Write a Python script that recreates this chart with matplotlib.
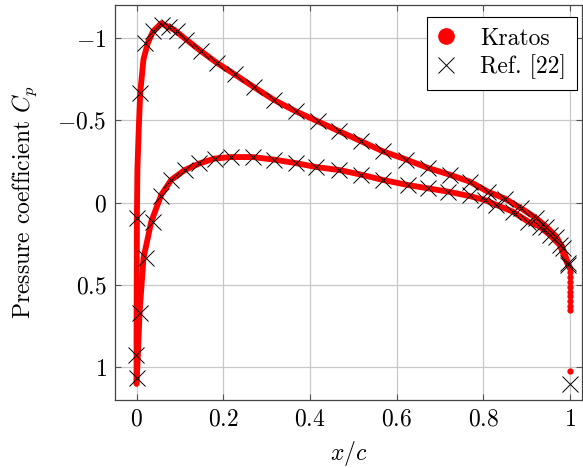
import matplotlib
matplotlib.use('Agg')
import matplotlib.pyplot as plt
from matplotlib.lines import Line2D

plt.rcParams['font.family'] = 'serif'
plt.rcParams['font.serif'] = ['cmr10', 'DejaVu Serif']
plt.rcParams['mathtext.fontset'] = 'cm'
plt.rcParams['axes.formatter.use_mathtext'] = True

# Kratos, upper surface (stagnation -> trailing edge)
kr_up_x = [0.0, 0.0, 0.0005, 0.001, 0.002, 0.005, 0.0085, 0.016, 0.026, 0.038, 0.057,
           0.087, 0.115, 0.149, 0.185, 0.226, 0.272, 0.316, 0.367, 0.418, 0.468,
           0.518, 0.568, 0.622, 0.672, 0.722, 0.768, 0.81, 0.849, 0.887, 0.922,
           0.945, 0.968, 0.983, 0.995, 1.0]
kr_up_cp = [1.1, 0.8, 0.4, 0.05, -0.2, -0.44, -0.666, -0.87, -0.97, -1.04, -1.09,
            -1.05, -0.99, -0.92, -0.85, -0.78, -0.70, -0.626, -0.555, -0.494, -0.433,
            -0.373, -0.312, -0.262, -0.211, -0.17, -0.128, -0.067, -0.025, 0.034, 0.095,
            0.146, 0.206, 0.277, 0.368, 0.40]

# Kratos, lower surface
kr_lo_x = [0.0, 0.003, 0.007, 0.016, 0.034, 0.057, 0.08, 0.111, 0.145, 0.18, 0.218,
           0.268, 0.318, 0.368, 0.415, 0.468, 0.518, 0.568, 0.626, 0.672, 0.718,
           0.768, 0.803, 0.83, 0.868, 0.903, 0.93, 0.953, 0.976, 0.995, 1.0]
kr_lo_cp = [1.1, 0.93, 0.671, 0.338, 0.115, -0.047, -0.138, -0.198, -0.238, -0.268, -0.277,
            -0.277, -0.261, -0.24, -0.216, -0.198, -0.17, -0.138, -0.107, -0.087, -0.067,
            -0.04, -0.016, 0.014, 0.055, 0.115, 0.146, 0.196, 0.257, 0.378, 0.40]

# Kratos, isolated trailing-edge points
kr_te_x = [1.0, 1.0, 1.0, 1.0, 1.0, 1.0, 1.0, 1.0, 1.0, 1.0]
kr_te_cp = [0.42, 0.45, 0.48, 0.51, 0.54, 0.57, 0.60, 0.63, 0.65, 1.02]

# Reference [22]
ref_x = [0.0085, 0.02, 0.038, 0.058, 0.075, 0.093, 0.115, 0.149, 0.185, 0.226, 0.272,
         0.316, 0.367, 0.418, 0.468, 0.518, 0.568, 0.622, 0.672, 0.722, 0.768, 0.81,
         0.849, 0.887, 0.922, 0.945, 0.968, 0.983, 0.995,
         0.001, -0.002, 0.001, 0.0085, 0.021, 0.038, 0.057, 0.080, 0.111, 0.145, 0.180,
         0.218, 0.268, 0.318, 0.368, 0.415, 0.468, 0.518, 0.568, 0.626, 0.672, 0.718,
         0.768, 0.803, 0.83, 0.868, 0.903, 0.93, 0.953, 0.976, 0.995, 1.0]
ref_cp = [-0.666, -0.97, -1.04, -1.08, -1.07, -1.04, -0.99, -0.92, -0.85, -0.78, -0.70,
          -0.626, -0.555, -0.494, -0.433, -0.373, -0.312, -0.262, -0.211, -0.17, -0.128, -0.067,
          -0.025, 0.034, 0.095, 0.146, 0.206, 0.277, 0.368,
          0.095, 0.924, 1.065, 0.671, 0.338, 0.115, -0.04, -0.138, -0.198, -0.238, -0.268,
          -0.277, -0.277, -0.261, -0.24, -0.216, -0.198, -0.17, -0.138, -0.107, -0.087, -0.067,
          -0.045, -0.016, 0.014, 0.055, 0.115, 0.146, 0.196, 0.257, 0.378, 1.1]

xticks = [0, 0.2, 0.4, 0.6, 0.8, 1]
xtick_labels = ['$0$', '$0.2$', '$0.4$', '$0.6$', '$0.8$', '$1$']
yticks = [-1, -0.5, 0, 0.5, 1]
ytick_labels = ['$-1$', '$-0.5$', '$0$', '$0.5$', '$1$']

fig = plt.figure(figsize=(5.83, 4.68), dpi=100)
ax = fig.add_axes([0.197, 0.145, 0.801, 0.844])

ax.plot(kr_up_x, kr_up_cp, color='red', lw=4.2, solid_capstyle='round', zorder=2)
ax.plot(kr_lo_x, kr_lo_cp, color='red', lw=4.2, solid_capstyle='round', zorder=2)
ax.plot(kr_te_x, kr_te_cp, 'o', color='red', ms=3.5, zorder=2)
ax.plot(ref_x, ref_cp, 'x', color='black', ms=12, mew=0.7, zorder=3)

ax.set_xlim(-0.05, 1.027)
ax.set_ylim(1.2, -1.2)
ax.set_xticks(xticks)
ax.set_xticklabels(xtick_labels)
ax.set_yticks(yticks)
ax.set_yticklabels(ytick_labels)
ax.tick_params(direction='in', top=True, right=True, labelsize=17, length=4, color='#555555')
ax.tick_params(axis='x', pad=6)
ax.tick_params(axis='y', pad=6)
ax.grid(True, color='#c8c8c8', lw=0.9)
ax.set_axisbelow(True)
for s in ax.spines.values():
    s.set_color('#444444')
    s.set_linewidth(0.9)

ax.set_xlabel('$x/c$', fontsize=17, labelpad=6)
ax.set_ylabel('Pressure coefficient $C_p$', fontsize=17, labelpad=13)

handles = [Line2D([], [], marker='o', color='red', ls='none', ms=11),
           Line2D([], [], marker='x', color='black', ls='none', ms=12, mew=0.7)]
leg = ax.legend(handles, ['Kratos', 'Ref. [22]'], loc='upper right',
                bbox_to_anchor=(0.989, 0.970), fontsize=17,
                frameon=True, fancybox=False, edgecolor='black', framealpha=1,
                borderaxespad=0, handletextpad=1.1, borderpad=0.45, labelspacing=0.2,
                handlelength=0.7)
leg.get_frame().set_linewidth(0.8)

fig.savefig('out.png', dpi=100)
